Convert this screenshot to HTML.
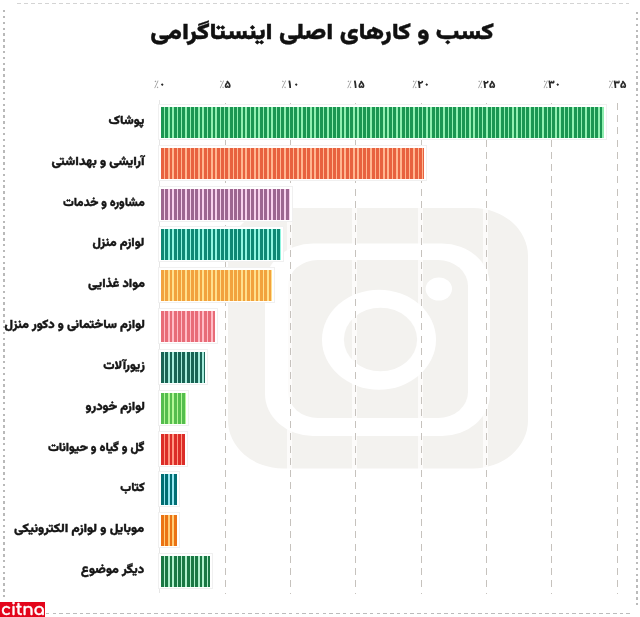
<!DOCTYPE html>
<html lang="fa">
<head>
<meta charset="utf-8">
<style>
html,body{margin:0;padding:0;background:#fff;}
body{width:640px;height:617px;position:relative;overflow:hidden;font-family:"Vazirmatn","DejaVu Sans",sans-serif;}
.abs{position:absolute;}
#wrap{position:absolute;left:0;top:0;width:640px;height:617px;filter:blur(0.35px);}
.title{position:absolute;left:0;width:644px;top:15.8px;text-align:center;font-family:"Vazirmatn","DejaVu Sans",sans-serif;font-size:25.6px;font-weight:900;color:#111;direction:rtl;white-space:nowrap;line-height:36px;transform:scale(1.01,0.88);transform-origin:322px 50%;-webkit-text-stroke:0.4px #111;}
.ax{position:absolute;top:78px;width:40px;text-align:center;font-family:"Noto Sans Arabic","Vazirmatn","DejaVu Sans",sans-serif;font-size:11px;line-height:14px;white-space:nowrap;direction:ltr;color:#2a2a2a;font-weight:800;}
.ax .p{color:#9a9a9a;font-weight:400;}
.lbl{position:absolute;right:495.5px;font-size:12.2px;-webkit-text-stroke:0.35px #161616;transform-origin:100% 50%;font-weight:900;color:#161616;direction:rtl;white-space:nowrap;line-height:20px;}
.box{position:absolute;left:158px;height:36px;background:#fff;border:1px solid #f0f0f0;box-sizing:border-box;}
.bar{position:absolute;left:161px;height:31px;}
.halo{position:absolute;top:103px;height:491px;width:5px;background:#fff;opacity:0.7;}
.grid{position:absolute;top:103px;height:491px;width:1px;background:repeating-linear-gradient(180deg,#c6c2bd 0 7px,transparent 7px 12.24px);}
</style>
</head>
<body>
<div id="wrap">
<!-- dotted frame -->
<div class="abs" style="left:17px;top:3px;width:612px;height:1px;background:repeating-linear-gradient(90deg,#d4d4d4 0 4px,transparent 4px 7px);"></div>
<div class="abs" style="left:3px;top:10px;width:2px;height:591px;background:repeating-linear-gradient(180deg,#b9b9b9 0 2.5px,transparent 2.5px 5.85px);"></div>
<div class="abs" style="left:636px;top:12px;width:1.5px;height:593px;background:repeating-linear-gradient(180deg,#bbbbbb 0 2.5px,transparent 2.5px 5.85px);"></div>
<div class="abs" style="left:46px;top:612.5px;width:584px;height:1.5px;background:repeating-linear-gradient(90deg,#bcbcbc 0 3.5px,transparent 3.5px 6.75px);"></div>

<!-- instagram watermark -->
<svg class="abs" style="left:0;top:0" width="640" height="617" viewBox="0 0 640 617">
  <rect x="228" y="208" width="300" height="260.5" rx="55" ry="48" fill="#f3f2ef"/>
  <rect x="265" y="243.5" width="225" height="192.5" rx="48" ry="42" fill="#fff"/>
  <rect x="288" y="260" width="180" height="158" rx="30" ry="26" fill="#f3f2ef"/>
  <ellipse cx="379" cy="339.7" rx="57" ry="50" fill="#fff"/>
  <ellipse cx="380.5" cy="339.5" rx="36.6" ry="31.8" fill="#f3f2ef"/>
  <ellipse cx="438.8" cy="289" rx="13.2" ry="11.5" fill="#fff"/>
</svg>

<div class="title">کسب و کارهای اصلی اینستاگرامی</div>

<!-- grid -->
<div class="grid" style="left:159px;background:#e6e6e6;top:100px;height:493px"></div>
<div class="halo" style="left:222px"></div><div class="grid" style="left:225px"></div>
<div class="halo" style="left:287px"></div><div class="grid" style="left:290px"></div>
<div class="halo" style="left:352px"></div><div class="grid" style="left:355px"></div>
<div class="halo" style="left:418px"></div><div class="grid" style="left:421px"></div>
<div class="halo" style="left:483px"></div><div class="grid" style="left:486px"></div>
<div class="halo" style="left:548px"></div><div class="grid" style="left:551px"></div>
<div class="halo" style="left:614px"></div><div class="grid" style="left:617px"></div>

<!-- axis labels -->
<div class="ax" style="left:139.5px"><span class="p">٪</span>۰</div>
<div class="ax" style="left:205.0px"><span class="p">٪</span>۵</div>
<div class="ax" style="left:270.3px"><span class="p">٪</span>۱۰</div>
<div class="ax" style="left:335.7px"><span class="p">٪</span>۱۵</div>
<div class="ax" style="left:401.0px"><span class="p">٪</span>۲۰</div>
<div class="ax" style="left:466.5px"><span class="p">٪</span>۲۵</div>
<div class="ax" style="left:531.9px"><span class="p">٪</span>۳۰</div>
<div class="ax" style="left:597.3px"><span class="p">٪</span>۳۵</div>

<!-- bars -->
<div class="box" style="top:104px;width:449px"></div>
<div class="bar" style="top:107px;width:443px;background:repeating-linear-gradient(90deg,#1b9652 0 2.8px,#90efb0 2.8px 4.3px)"></div>
<div class="lbl" style="top:110.6px;transform:scaleX(1.043)">پوشاک</div>

<div class="box" style="top:145px;width:269px"></div>
<div class="bar" style="top:148px;width:263px;background:repeating-linear-gradient(90deg,#e8623f 0 2.8px,#ffb690 2.8px 4.3px)"></div>
<div class="lbl" style="top:151.6px;transform:scaleX(1.076)">آرایشی و بهداشتی</div>

<div class="box" style="top:186px;width:135px"></div>
<div class="bar" style="top:189px;width:129px;background:repeating-linear-gradient(90deg,#9d6690 0 2.8px,#f8d0ec 2.8px 4.3px)"></div>
<div class="lbl" style="top:192.6px;transform:scaleX(0.976)">مشاوره و خدمات</div>

<div class="box" style="top:226px;width:126px"></div>
<div class="bar" style="top:229px;width:120px;background:repeating-linear-gradient(90deg,#0e8874 0 2.8px,#8ff5e0 2.8px 4.3px)"></div>
<div class="lbl" style="top:232.6px;transform:scaleX(1.031)">لوازم منزل</div>

<div class="box" style="top:267px;width:117px"></div>
<div class="bar" style="top:270px;width:111px;background:repeating-linear-gradient(90deg,#f2a23e 0 2.8px,#ffe08e 2.8px 4.3px)"></div>
<div class="lbl" style="top:273.6px;transform:scaleX(1.037)">مواد غذایی</div>

<div class="box" style="top:308px;width:60px"></div>
<div class="bar" style="top:311px;width:54px;background:repeating-linear-gradient(90deg,#e86c78 0 2.8px,#ffbcc6 2.8px 4.3px)"></div>
<div class="lbl" style="top:314.6px;transform:scaleX(1.041)">لوازم ساختمانی و دکور منزل</div>

<div class="box" style="top:349px;width:50px"></div>
<div class="bar" style="top:352px;width:44px;background:repeating-linear-gradient(90deg,#196455 0 2.8px,#a6ecdc 2.8px 4.3px)"></div>
<div class="lbl" style="top:355.6px;transform:scaleX(1.021)">زیورآلات</div>

<div class="box" style="top:390px;width:31px"></div>
<div class="bar" style="top:393px;width:25px;background:repeating-linear-gradient(90deg,#55bd4e 0 2.8px,#b4f797 2.8px 4.3px)"></div>
<div class="lbl" style="top:396.6px;transform:scaleX(1.042)">لوازم خودرو</div>

<div class="box" style="top:431px;width:30px"></div>
<div class="bar" style="top:434px;width:24px;background:repeating-linear-gradient(90deg,#dc2d28 0 2.8px,#ff9682 2.8px 4.3px)"></div>
<div class="lbl" style="top:437.6px;transform:scaleX(0.991)">گل و گیاه و حیوانات</div>

<div class="box" style="top:471px;width:22px"></div>
<div class="bar" style="top:474px;width:16px;background:repeating-linear-gradient(90deg,#006e73 0 2.8px,#96e6f0 2.8px 4.3px)"></div>
<div class="lbl" style="top:477.6px;transform:scaleX(0.986)">کتاب</div>

<div class="box" style="top:512px;width:22px"></div>
<div class="bar" style="top:515px;width:16px;background:repeating-linear-gradient(90deg,#eb7314 0 2.8px,#ffcd78 2.8px 4.3px)"></div>
<div class="lbl" style="top:518.6px;transform:scaleX(1.074)">موبایل و لوازم الکترونیکی</div>

<div class="box" style="top:553px;width:55px"></div>
<div class="bar" style="top:556px;width:49px;background:repeating-linear-gradient(90deg,#1a7844 0 2.8px,#b0efcc 2.8px 4.3px)"></div>
<div class="lbl" style="top:559.6px;transform:scaleX(1.053)">دیگر موضوع</div>

<!-- citna logo -->
<div class="abs" style="left:0;top:602px;width:45px;height:15px;background:#e3051b;overflow:hidden;">
  <div class="abs" style="left:1px;top:-2px;font-family:'Comfortaa','Varela Round','Liberation Sans',sans-serif;font-weight:700;font-size:16px;line-height:20px;color:#fff;letter-spacing:-0.2px;white-space:nowrap;transform-origin:0 50%;transform:scaleX(1.05);-webkit-text-stroke:0.35px #fff;">citna</div>
</div>
</div>
<script>
(function(){
  var W=[35.90,93.04,81.65,51.87,56.97,140.34,41.77,59.38,96.37,24.36,130.16,63.51];
  var els=document.querySelectorAll('.lbl');
  for(var i=0;i<els.length&&i<W.length;i++){
    var e=els[i],old=e.style.transform;
    e.style.transform='none';
    var w=e.getBoundingClientRect().width;
    if(w>1){e.style.transform='scaleX('+(W[i]/w).toFixed(4)+')';}else{e.style.transform=old;}
  }
  var t=document.querySelector('.title');
  if(t){
    var r=document.createRange();r.selectNodeContents(t);
    t.style.transform='none';
    var tw=r.getBoundingClientRect().width;
    t.style.transform='';
    if(tw>1){t.style.transform='scale('+(343.62/tw).toFixed(4)+',0.88)';}
  }
})();
</script>
</body>
</html>
